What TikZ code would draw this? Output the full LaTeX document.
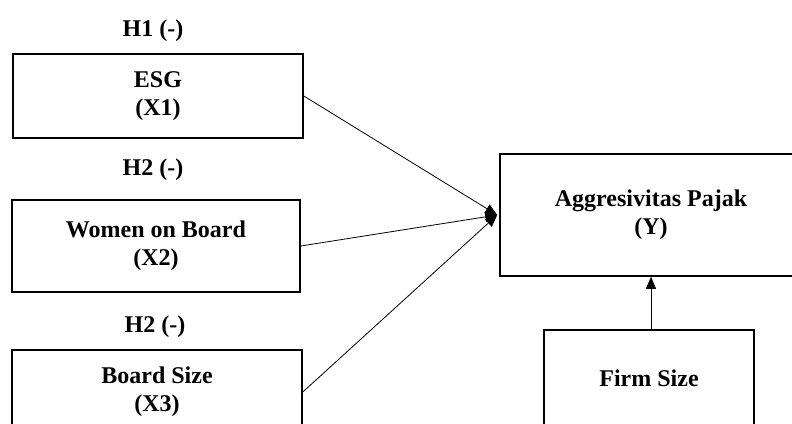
\documentclass[tikz,border=0pt]{standalone}
\usepackage{fontspec}
\setmainfont{Liberation Serif}
\usetikzlibrary{arrows.meta}
\begin{document}
\begin{tikzpicture}[x=1pt,y=-1pt,
  box/.style={draw,line width=1.6pt,rectangle,inner sep=0pt,align=center,
    font=\fontsize{24}{28}\selectfont\bfseries},
  hyp/.style={font=\fontsize{24}{28}\selectfont\bfseries,inner sep=0pt},
  conn/.style={line width=0.8pt,-{Triangle[length=12pt,width=10pt]}}]
\useasboundingbox (0,0) rectangle (792,423);
\clip (0,0) rectangle (792,423);
\fill[white] (0,0) rectangle (792,423);
\node[hyp] (h1) at (153,31) {H1 (-)};
\node[hyp] (h2) at (153,170) {H2 (-)};
\node[hyp] (h3) at (155,327) {H2 (-)};
\node[box,minimum width=290pt,minimum height=84pt] (esg) at (158,96) {ESG\\(X1)};
\node[box,minimum width=288pt,minimum height=92pt] (wob) at (156,246) {Women on Board\\(X2)};
\node[box,minimum width=290pt,minimum height=84pt] (bs) at (157,392) {Board Size\\(X3)};
\node[box,minimum width=302pt,minimum height=122pt] (y) at (651,215) {Aggresivitas Pajak\\(Y)};
\node[box,minimum width=210pt,minimum height=96pt] (fs) at (649,378) {Firm Size};
\coordinate (tip) at ([xshift=-2pt]y.west);
\draw[conn] (esg.east) -- (tip);
\draw[conn] (wob.east) -- (tip);
\draw[conn] (bs.east) -- (tip);
\draw[conn] (fs.north -| y.south) -- (y.south);
\end{tikzpicture}
\end{document}
